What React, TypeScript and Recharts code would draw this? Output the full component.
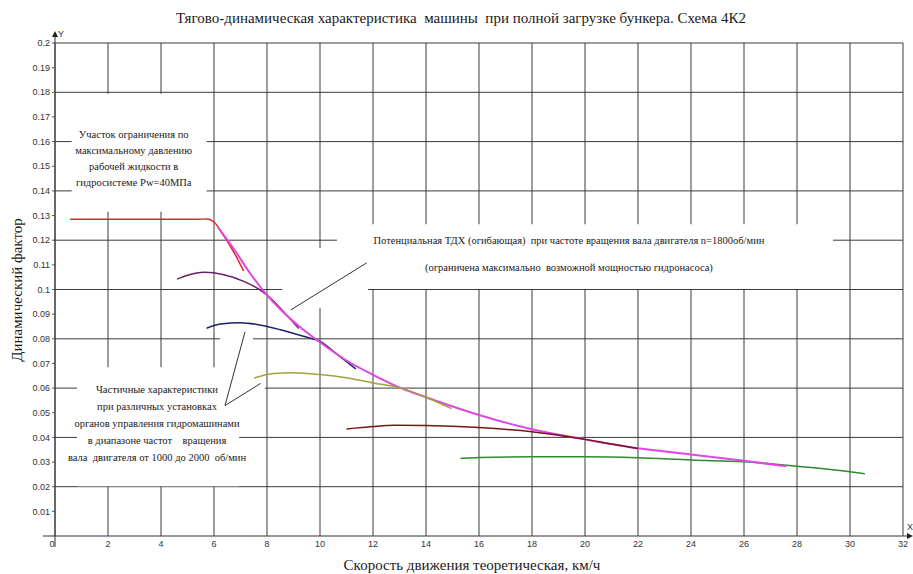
import React from 'react';
import {
  LineChart,
  Line,
  XAxis,
  YAxis,
  CartesianGrid,
  ReferenceArea,
  ReferenceLine,
  ReferenceDot,
} from 'recharts';

// ---------- axis ticks ----------
const speedTicks = [0, 2, 4, 6, 8, 10, 12, 14, 16, 18, 20, 22, 24, 26, 28, 30, 32];
const factorTicks = [
  0.01, 0.02, 0.03, 0.04, 0.05, 0.06, 0.07, 0.08, 0.09, 0.1,
  0.11, 0.12, 0.13, 0.14, 0.15, 0.16, 0.17, 0.18, 0.19, 0.2,
];
const gridFactors = [0.02, 0.04, 0.06, 0.08, 0.1, 0.12, 0.14, 0.16, 0.18, 0.2];

// ---------- series (speed km/h, dynamic factor) ----------
// pressure-limited section (red)
const pressureSpeed = [0.57, 3, 5.4, 5.75, 6.0, 6.375, 6.75, 7.12];
const pressureFactor = [0.1285, 0.1285, 0.1285, 0.1286, 0.1274, 0.1217, 0.1151, 0.1075];

// partial characteristic 1 (purple)
const partial1Speed = [4.6, 5.0, 5.625, 6.375, 7.125, 7.75, 8.125, 8.625, 9.2];
const partial1Factor = [0.1042, 0.1058, 0.107, 0.106, 0.1033, 0.0997, 0.0965, 0.091, 0.0842];

// partial characteristic 2 (navy)
const partial2Speed = [5.72, 6.25, 7.0, 7.625, 8.5, 9.375, 10.0, 10.66, 11.35];
const partial2Factor = [0.0843, 0.086, 0.0865, 0.0858, 0.0837, 0.081, 0.0789, 0.0736, 0.0678];

// partial characteristic 3 (olive)
const partial3Speed = [7.52, 8.25, 9.0, 10.0, 11.04, 12.0, 13.06, 14.0, 14.96];
const partial3Factor = [0.0641, 0.0659, 0.0662, 0.0655, 0.0641, 0.0621, 0.06, 0.0563, 0.0517];

// partial characteristic 4 (maroon)
const partial4Speed = [11.0, 12.0, 12.8, 14.0, 16.0, 18.0, 19.3, 20.0, 21.0, 22.0];
const partial4Factor = [0.0434, 0.0444, 0.0449, 0.0448, 0.044, 0.0423, 0.0404, 0.0392, 0.0373, 0.0355];

// partial characteristic 5 (green)
const partial5Speed = [15.3, 16.0, 18.0, 20.0, 22.0, 24.0, 26.0, 27.0, 28.0, 30.0, 30.56];
const partial5Factor = [0.0314, 0.0318, 0.0321, 0.0321, 0.0317, 0.0308, 0.0301, 0.0293, 0.0283, 0.0261, 0.0253];

// potential envelope (magenta)
const envelopeSpeed = [6.15, 6.75, 7.375, 8.0, 8.5, 9.2, 10.0, 11.0, 12.0, 13.06, 14.0, 16.0, 18.0, 20.0, 22.0, 24.0, 26.0, 27.6];
const envelopeFactor = [0.1252, 0.1164, 0.1064, 0.0977, 0.092, 0.0852, 0.0786, 0.0712, 0.0654, 0.06, 0.0563, 0.0491, 0.0433, 0.0392, 0.0356, 0.0331, 0.0305, 0.0283];

// ---------- annotation texts ----------
const pressureNote = ['Участок ограничения по', 'максимальному давлению', 'рабочей жидкости в', 'гидросистеме Pw=40МПа'];
const envelopeNote = [
  'Потенциальная ТДХ (огибающая)  при частоте вращения вала двигателя n=1800об/мин',
  '(ограничена максимально  возможной мощностью гидронасоса)',
];
const partialNote = [
  'Частичные характеристики',
  'при различных установках',
  'органов управления гидромашинами',
  'в диапазоне частот    вращения',
  'вала  двигателя от 1000 до 2000  об/мин',
];

const titleText = 'Тягово-динамическая характеристика  машины  при полной загрузке бункера. Схема 4К2';
const xTitle = 'Скорость движения теоретическая, км/ч';
const yTitle = 'Динамический фактор';

const zip = (xs: number[], ys: number[]) => xs.map((x, i) => ({ x, y: ys[i] }));

const SERIF = "'Liberation Serif', 'Times New Roman', serif";
const SANS = "'Liberation Sans', Arial, sans-serif";

const BoxText = (props: any) => {
  const { viewBox, lines, cxOff, baseOff, lh } = props;
  if (!viewBox) return null;
  return (
    <g>
      {lines.map((l: string, i: number) => (
        <text
          key={i}
          x={viewBox.x + cxOff}
          y={viewBox.y + baseOff + i * lh}
          textAnchor="middle"
          fill="#1a1a1a"
          fontFamily={SERIF}
          fontSize={10.5}
          style={{ whiteSpace: 'pre', fontFamily: SERIF, fontSize: 10.5 }}
        >
          {l}
        </text>
      ))}
    </g>
  );
};

const XTick = (props: any) => {
  const { x, y, payload } = props;
  const v = payload.value;
  return (
    <text x={v === 0 ? x - 3 : x} y={y} dy={6} textAnchor="middle" fill="#333" style={{ fontFamily: SANS, fontSize: 9 }}>
      {v}
    </text>
  );
};

const YArrow = (props: any) => {
  const { cx, cy } = props;
  return (
    <g>
      <line x1={cx} y1={cy} x2={cx} y2={cy - 7} stroke="#333" strokeWidth={1} />
      <polygon points={`${cx - 3},${cy - 6} ${cx + 3},${cy - 6} ${cx},${cy - 12}`} fill="#222" />
      <text x={cx + 3} y={cy - 6} fill="#333" style={{ fontFamily: SANS, fontSize: 9 }}>Y</text>
    </g>
  );
};

const XArrow = (props: any) => {
  const { cx, cy } = props;
  return (
    <g>
      <line x1={cx} y1={cy} x2={cx + 5} y2={cy} stroke="#333" strokeWidth={1} />
      <polygon points={`${cx + 4},${cy - 3} ${cx + 4},${cy + 3} ${cx + 10},${cy}`} fill="#222" />
      <text x={cx + 4} y={cy - 6} fill="#333" style={{ fontFamily: SANS, fontSize: 9 }}>X</text>
    </g>
  );
};

const Origin = (props: any) => {
  const { cx, cy } = props;
  return (
    <g>
      <line x1={cx - 12} y1={cy} x2={cx} y2={cy} stroke="#333" strokeWidth={1} />
      <line x1={cx} y1={cy} x2={cx} y2={cy + 11} stroke="#333" strokeWidth={1} />
    </g>
  );
};

const whiteBox = { fill: '#ffffff', fillOpacity: 1, stroke: 'none' } as const;

export default function App() {
  return (
    <div style={{ position: 'absolute', left: 0, top: 0, width: 913, height: 574, background: '#fff' }}>
      <LineChart width={913} height={574} margin={{ top: 43, right: 10, left: 0, bottom: 0 }}>
        <CartesianGrid stroke="#3a3a3a" strokeWidth={1} verticalValues={speedTicks} horizontalValues={gridFactors} />
        <XAxis
          type="number"
          dataKey="x"
          domain={[0, 32]}
          ticks={speedTicks}
          interval={0}
          height={38}
          tickLine={false}
          tickSize={3}
          tickMargin={2}
          axisLine={{ stroke: '#333' }}
          tick={<XTick />}
          allowDataOverflow
        />
        <YAxis
          type="number"
          dataKey="y"
          domain={[0, 0.2]}
          ticks={factorTicks}
          interval={0}
          width={55}
          tickSize={3}
          tickMargin={2}
          axisLine={{ stroke: '#333' }}
          tickLine={{ stroke: '#555' }}
          tick={{ fontSize: 9, fill: '#333', fontFamily: SANS }}
          tickFormatter={(v: number) => String(+v.toFixed(2))}
          allowDataOverflow
        />

        <ReferenceArea x1={0.63} x2={5.72} y1={0.1315} y2={0.1794} {...whiteBox} ifOverflow="visible"
          label={<BoxText lines={pressureNote} cxOff={62} baseOff={44} lh={16} />} />
        <ReferenceArea x1={10.64} x2={29.36} y1={0.1002} y2={0.1265} {...whiteBox} ifOverflow="visible"
          label={<BoxText lines={envelopeNote} cxOff={232} baseOff={20} lh={27} />} />
        <ReferenceArea x1={8.57} x2={11.81} y1={0.0925} y2={0.1168} {...whiteBox} ifOverflow="visible" />
        <ReferenceArea x1={0.83} x2={6.95} y1={0.0202} y2={0.0685} {...whiteBox} ifOverflow="visible"
          label={<BoxText lines={partialNote} cxOff={80} baseOff={26} lh={17} />} />
        <ReferenceArea x1={6.23} x2={7.47} y1={0.0511} y2={0.0844} {...whiteBox} ifOverflow="visible" />
        <ReferenceArea x1={6.23} x2={7.92} y1={0.0511} y2={0.0649} {...whiteBox} ifOverflow="visible" />

        <ReferenceLine segment={[{ x: 8.894, y: 0.0917 }, { x: 11.762, y: 0.1108 }]} stroke="#333" strokeWidth={1} ifOverflow="visible" />
        <ReferenceLine segment={[{ x: 6.415, y: 0.0529 }, { x: 7.17, y: 0.0828 }]} stroke="#333" strokeWidth={1} ifOverflow="visible" />
        <ReferenceLine segment={[{ x: 6.415, y: 0.0529 }, { x: 7.76, y: 0.0619 }]} stroke="#333" strokeWidth={1} ifOverflow="visible" />

        <Line data={zip(partial5Speed, partial5Factor)} dataKey="y" type="monotone" stroke="#2e8b2e" strokeWidth={1.5} dot={false} isAnimationActive={false} />
        <Line data={zip(pressureSpeed, pressureFactor)} dataKey="y" type="monotone" stroke="#e0262a" strokeWidth={1.5} dot={false} isAnimationActive={false} />
        <Line data={zip(partial1Speed, partial1Factor)} dataKey="y" type="monotone" stroke="#6a1f6a" strokeWidth={1.5} dot={false} isAnimationActive={false} />
        <Line data={zip(partial2Speed, partial2Factor)} dataKey="y" type="monotone" stroke="#1f1f6e" strokeWidth={1.5} dot={false} isAnimationActive={false} />
        <Line data={zip(envelopeSpeed, envelopeFactor)} dataKey="y" type="monotone" stroke="#e046e0" strokeWidth={2} dot={false} isAnimationActive={false} />
        <Line data={zip(partial3Speed, partial3Factor)} dataKey="y" type="monotone" stroke="#a3a23a" strokeWidth={1.5} dot={false} isAnimationActive={false} />
        <Line data={zip(partial4Speed, partial4Factor)} dataKey="y" type="monotone" stroke="#7a1414" strokeWidth={1.5} dot={false} isAnimationActive={false} />

        <ReferenceDot x={0} y={0.2} r={0} ifOverflow="visible" shape={<YArrow />} />
        <ReferenceDot x={32} y={0} r={0} ifOverflow="visible" shape={<XArrow />} />
        <ReferenceDot x={0} y={0} r={0} ifOverflow="visible" shape={<Origin />} />
      </LineChart>

      <div style={{ position: 'absolute', left: 161, width: 600, top: 9, textAlign: 'center', fontFamily: SERIF, fontSize: 15, lineHeight: '18px', color: '#1a1a1a', whiteSpace: 'pre' }}>
        {titleText}
      </div>
      <div style={{ position: 'absolute', left: 172, width: 600, top: 556, textAlign: 'center', fontFamily: SERIF, fontSize: 15, lineHeight: '18px', color: '#1a1a1a', whiteSpace: 'pre' }}>
        {xTitle}
      </div>
      <div style={{ position: 'absolute', left: 16.5 - 100, width: 200, top: 290 - 9, height: 18, textAlign: 'center', fontFamily: SERIF, fontSize: 15, lineHeight: '18px', color: '#1a1a1a', transform: 'rotate(-90deg)', whiteSpace: 'pre' }}>
        {yTitle}
      </div>
    </div>
  );
}
